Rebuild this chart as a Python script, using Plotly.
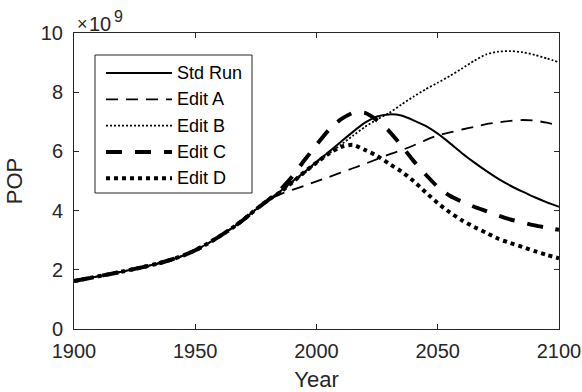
import plotly.graph_objects as go

years = list(range(1900, 2101, 5))

history = [1.62, 1.70, 1.78, 1.86, 1.94, 2.03, 2.12, 2.22, 2.34, 2.48,
           2.66, 2.88, 3.13, 3.40, 3.70, 4.04, 4.35]

std_run = history + [4.65, 4.98, 5.30, 5.65, 5.98, 6.32, 6.66, 6.97, 7.18, 7.25,
                     7.21, 7.05, 6.86, 6.60, 6.28, 5.94, 5.63, 5.34, 5.07, 4.84,
                     4.64, 4.45, 4.28, 4.13]
edit_a = history + [4.55, 4.70, 4.84, 4.99, 5.13, 5.28, 5.43, 5.58, 5.74, 5.90,
                    6.04, 6.20, 6.38, 6.54, 6.64, 6.74, 6.83, 6.92, 6.98, 7.03,
                    7.06, 7.04, 6.97, 6.87]
edit_b = history + [4.62, 4.95, 5.26, 5.60, 5.92, 6.22, 6.53, 6.83, 7.08, 7.30,
                    7.58, 7.85, 8.10, 8.32, 8.55, 8.80, 9.06, 9.28, 9.37, 9.39,
                    9.35, 9.26, 9.14, 9.01]
edit_c = history + [4.70, 5.15, 5.70, 6.22, 6.72, 7.08, 7.30, 7.30, 7.05, 6.68,
                    6.20, 5.68, 5.22, 4.80, 4.50, 4.30, 4.13, 3.98, 3.83, 3.70,
                    3.60, 3.50, 3.42, 3.35]
edit_d = history + [4.62, 4.95, 5.30, 5.62, 5.92, 6.15, 6.22, 6.05, 5.85, 5.58,
                    5.32, 5.00, 4.62, 4.25, 3.94, 3.67, 3.45, 3.25, 3.05, 2.90,
                    2.77, 2.63, 2.50, 2.39]

series_names = ["Std Run", "Edit A", "Edit B", "Edit C", "Edit D"]
scale = 1e9
y_ticks = [0, 2, 4, 6, 8, 10]
x_ticks = [1900, 1950, 2000, 2050, 2100]

styles = [
    dict(width=2, dash="solid"),
    dict(width=1.8, dash="12px,8px"),
    dict(width=1.8, dash="2px,2px"),
    dict(width=4, dash="16px,13px"),
    dict(width=4, dash="4px,4px"),
]

W, H = 582, 392
ML, MR, MT, MB = 74, 23, 33, 63
PW, PH = W - ML - MR, H - MT - MB


def px_x(p):
    return (p - ML) / PW


def px_y(p):
    return (H - MB - p) / PH


fig = go.Figure()
for name, vals, style in zip(series_names, [std_run, edit_a, edit_b, edit_c, edit_d], styles):
    fig.add_trace(go.Scatter(
        x=years, y=[v * scale for v in vals], name=name, mode="lines",
        line=dict(color="black", shape="spline", smoothing=0.6, **style),
        showlegend=False,
    ))

axis_color = "#262626"
font_family = "Liberation Sans, Arial, sans-serif"

# custom legend (box, line samples, labels)
shapes = [dict(type="rect", xref="paper", yref="paper",
               x0=px_x(95), x1=px_x(252), y0=px_y(193), y1=px_y(55),
               line=dict(color=axis_color, width=1), fillcolor="white", layer="above")]
annotations = []
for i, (name, style) in enumerate(zip(series_names, styles)):
    yc = px_y(73 + i * 26.3)
    shapes.append(dict(type="line", xref="paper", yref="paper",
                       x0=px_x(106), x1=px_x(172), y0=yc, y1=yc,
                       line=dict(color="black", **style), layer="above"))
    annotations.append(dict(text=name, xref="paper", yref="paper",
                            x=px_x(175), y=yc, xanchor="left", yanchor="middle",
                            showarrow=False, font=dict(size=18, color="black")))

# exponent label  (×10^9)
for txt, xp, yp, fs in [("×", 75, 24.5, 18), ("10", 87, 23.5, 20), ("9", 112, 16.5, 16)]:
    annotations.append(dict(
        text=txt, xref="paper", yref="paper", x=px_x(xp), y=px_y(yp),
        xanchor="left", yanchor="middle", showarrow=False,
        font=dict(size=fs, color=axis_color, family=font_family),
    ))

fig.update_layout(
    width=W, height=H,
    margin=dict(l=ML, r=MR, t=MT, b=MB),
    paper_bgcolor="white", plot_bgcolor="white",
    font=dict(family=font_family, color=axis_color, size=20),
    showlegend=False,
    xaxis=dict(
        range=[1900, 2100], tickvals=x_ticks, ticks="inside", ticklen=5,
        showline=True, linecolor=axis_color, linewidth=1, mirror="ticks",
        tickcolor=axis_color, showgrid=False, zeroline=False, automargin=False,
        ticklabelstandoff=4,
        title=dict(text="Year", font=dict(size=22), standoff=11),
    ),
    yaxis=dict(
        range=[0, 10 * scale], tickvals=[t * scale for t in y_ticks],
        ticktext=[str(t) for t in y_ticks], ticks="inside", ticklen=5,
        showline=True, linecolor=axis_color, linewidth=1, mirror="ticks",
        tickcolor=axis_color, showgrid=False, zeroline=False, automargin=False,
        ticklabelstandoff=6,
        title=dict(text="POP", font=dict(size=22), standoff=12),
    ),
    shapes=shapes,
    annotations=annotations,
)

fig.write_html(
    "out.html",
    config={"displayModeBar": False},
    post_script="document.body.style.margin='0';document.body.style.overflow='hidden';",
)
